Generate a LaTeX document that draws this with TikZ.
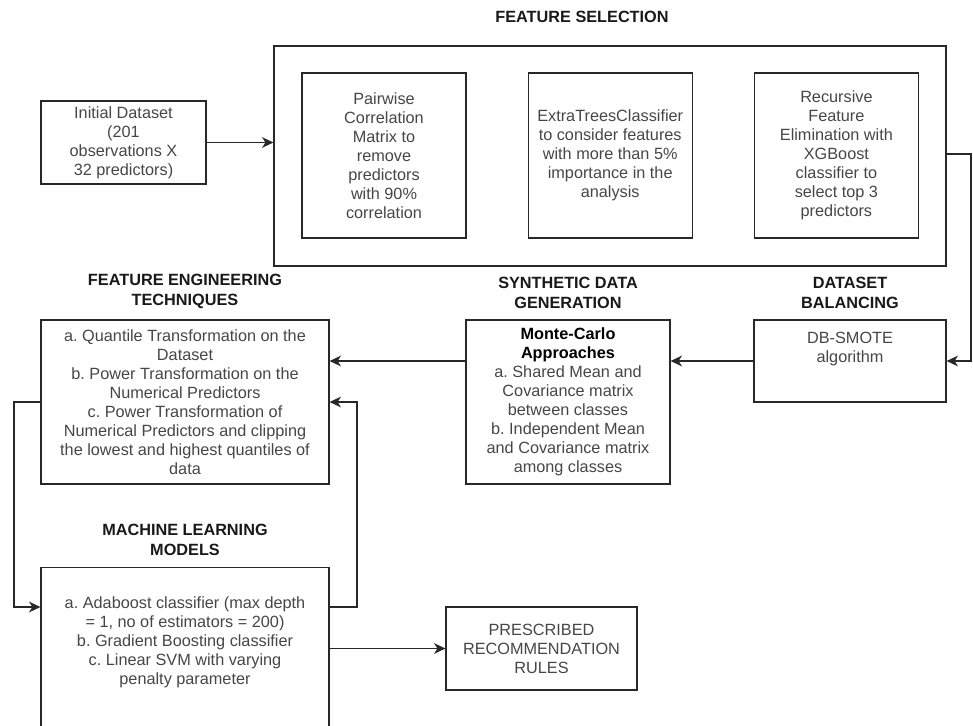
\documentclass[tikz,border=0pt]{standalone}
\usepackage{fontspec}
\setmainfont{Liberation Sans}
\usepackage{xcolor}
\usetikzlibrary{shapes,arrows.meta,positioning,calc}
\definecolor{txtgray}{RGB}{70,70,70}
\definecolor{linegray}{RGB}{40,40,40}
\frenchspacing

\begin{document}
\begin{tikzpicture}[x=0.75pt, y=-0.75pt,
    every node/.style={font=\fontsize{12.2}{14.25}\selectfont},
    block/.style={rectangle, draw=linegray, line width=0.9pt, text=txtgray, align=center, inner sep=2pt},
    fsbox/.style={block, minimum width=123pt, minimum height=123.75pt},
    boxtext/.style={text=txtgray, align=center, inner sep=0pt},
    title/.style={font=\fontsize{12.2}{15}\selectfont\bfseries, align=center, inner sep=0pt, text=black!90},
    arrow/.style={-{Stealth[length=8.5pt, width=8pt, inset=2.5pt]}, line width=0.9pt, draw=linegray}]
  \useasboundingbox (0,0) rectangle (973,725);

  \node[block, minimum width=123.75pt, minimum height=62.25pt] (init) at (123.5,142.5) {Initial Dataset\\(201\\observations X\\32 predictors)};
  \node[block, minimum width=504pt, minimum height=165pt] (fsel) at (610,156) {};
  \node[fsbox] (pcm) at (384,155.5) {Pairwise\\Correlation\\Matrix to\\remove\\predictors\\with 90\%\\correlation};
  \node[fsbox, right=45.75pt of pcm] (etc) {ExtraTreesClassifier\\to consider features\\with more than 5\%\\importance in the\\analysis};
  \node[fsbox, right=45.75pt of etc] (rfe) {Recursive\\Feature\\Elimination with\\XGBoost\\classifier to\\select top 3\\predictors};
  \node[title, above=16.5pt of fsel, xshift=-21pt] (fseltitle) {FEATURE SELECTION};

  \node[block, minimum width=144pt, minimum height=61.5pt] (bal) at (850,361) {};
  \node[boxtext, below=9pt of bal.north] (baltxt) {DB-SMOTE\\algorithm};
  \node[title, above=8pt of bal] (baltitle) {DATASET\\BALANCING};

  \node[block, minimum width=153pt, minimum height=123pt] (sdg) at (568,402) {\textbf{\color{black}Monte-Carlo}\\\textbf{\color{black}Approaches}\\a. Shared Mean and\\Covariance matrix\\between classes\\b. Independent Mean\\and Covariance matrix\\among classes};
  \node[title, above=8pt of sdg] (sdgtitle) {SYNTHETIC DATA\\GENERATION};

  \node[block, minimum width=216pt, minimum height=123pt] (fe) at (185,402) {a. Quantile Transformation on the\\Dataset\\b. Power Transformation on the\\Numerical Predictors\\c. Power Transformation of\\Numerical Predictors and clipping\\the lowest and highest quantiles of\\data};
  \node[title, above=8pt of fe] (fetitle) {FEATURE ENGINEERING\\TECHNIQUES};

  \node[block, minimum width=216pt, minimum height=142.5pt, anchor=north] (ml) at (185,567) {};
  \node[boxtext] (mltxt) at (185,642) {a. Adaboost classifier (max depth\\= 1, no of estimators = 200)\\b. Gradient Boosting classifier\\c. Linear SVM with varying\\penalty parameter};
  \node[title, above=8pt of ml] (mltitle) {MACHINE LEARNING\\MODELS};

  \node[block, minimum width=143.25pt, minimum height=62.25pt] (pr) at (541.5,648.5) {PRESCRIBED\\RECOMMENDATION\\RULES};

  \coordinate (rturn) at (971,154);
  \coordinate (lturn) at (14,607);
  \coordinate (mturn) at (357,607);

  \draw[arrow] (init) -- (init -| fsel.west);
  \draw[arrow] (rturn -| fsel.east) -- (rturn) |- (bal);
  \draw[arrow] (bal) -- (bal -| sdg.east);
  \draw[arrow] (sdg.west |- bal) -- (fe.east |- bal);
  \draw[arrow] (fe.west) -| (lturn) -- (lturn -| ml.west);
  \draw[arrow] (mturn -| ml.east) -- (mturn) |- (fe.east);
  \draw[arrow] (ml.east |- pr) -- (pr);
\end{tikzpicture}
\end{document}
